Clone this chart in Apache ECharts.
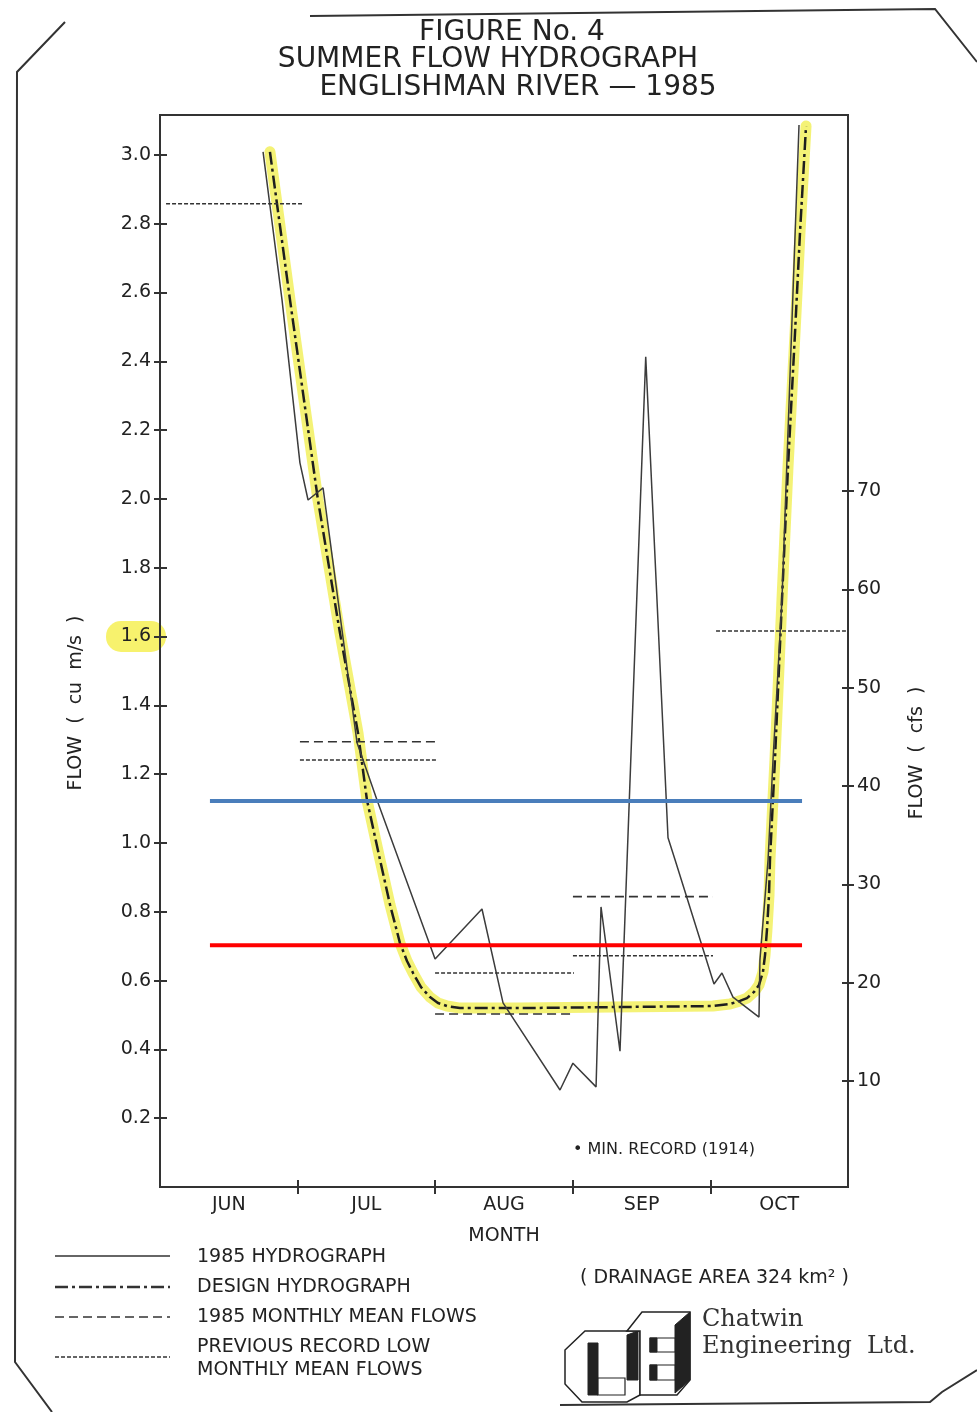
<!DOCTYPE html>
<html><head><meta charset="utf-8">
<script src="https://cdn.jsdelivr.net/npm/echarts@6/dist/echarts.min.js"></script>
<style>html,body{margin:0;padding:0;background:#fff}#c{width:977px;height:1412px}</style>
</head><body><div id="c"></div>
<script>
// ---------- data ----------
const months = ['JUN', 'JUL', 'AUG', 'SEP', 'OCT'];
const monthLabelPos = [0.5, 1.5, 2.5, 3.5, 4.5];
const monthTicks = [1, 2, 3, 4];
const leftTicks = [0.2, 0.4, 0.6, 0.8, 1.0, 1.2, 1.4, 1.6, 1.8, 2.0, 2.2, 2.4, 2.6, 2.8, 3.0];
const rightTicks = [10, 20, 30, 40, 50, 60, 70];

// 1985 hydrograph [month position, flow m3/s]
const hydrograph1985 = [
  [0.749, 3.009], [0.887, 2.578], [1.017, 2.105], [1.076, 1.997], [1.185, 2.032],
  [1.432, 1.291], [1.577, 1.125], [1.999, 0.663], [2.340, 0.808], [2.493, 0.535],
  [2.907, 0.282], [3.001, 0.360], [3.169, 0.291], [3.205, 0.814], [3.343, 0.395],
  [3.530, 2.413], [3.692, 1.015], [3.743, 0.951], [4.026, 0.590], [4.084, 0.622],
  [4.164, 0.552], [4.353, 0.494], [4.360, 0.660], [4.419, 0.951], [4.455, 1.241],
  [4.520, 1.706], [4.644, 3.087]
];

// design hydrograph
const designHydrograph = [
  [0.799, 3.009], [0.945, 2.578], [1.148, 1.997], [1.308, 1.610], [1.439, 1.320],
  [1.504, 1.125], [1.599, 0.951], [1.672, 0.820], [1.744, 0.709], [1.795, 0.657],
  [1.839, 0.622], [1.897, 0.581], [1.962, 0.552], [2.020, 0.535], [2.086, 0.526],
  [2.180, 0.520], [2.616, 0.520], [3.292, 0.523], [4.019, 0.526], [4.142, 0.532],
  [4.215, 0.541], [4.266, 0.549], [4.317, 0.567], [4.353, 0.587], [4.382, 0.625],
  [4.397, 0.674], [4.411, 0.747], [4.426, 0.849], [4.433, 0.951], [4.469, 1.241],
  [4.520, 1.706], [4.564, 2.093], [4.615, 2.483], [4.651, 2.773], [4.695, 3.084]
];

// 1985 monthly mean flows (JUL, AUG, SEP)
const mean1985Start = [1.017, 1.999, 3.001];
const mean1985End = [2.020, 3.009, 4.019];
const mean1985Values = [1.294, 0.503, 0.844];

// previous record low monthly mean flows (JUN..OCT)
const prevLowStart = [0.044, 1.017, 1.999, 3.001, 4.041];
const prevLowEnd = [1.032, 2.020, 3.009, 4.019, 4.985];
const prevLowValues = [2.858, 1.241, 0.622, 0.672, 1.616];

// added horizontal reference lines (blue, red)
const refLineValues = [1.122, 0.703];
const refLineStart = 0.363;
const refLineEnd = 4.666;

// ---------- helpers ----------
function segments(starts, ends, vals) {
  const out = [];
  for (let i = 0; i < vals.length; i++) {
    out.push([starts[i], vals[i]], [ends[i], vals[i]], [ends[i], null]);
  }
  return out;
}
const FONT = "'DejaVu Sans', 'Liberation Sans', sans-serif";
const INK = '#222';

const chart = echarts.init(document.getElementById('c'), null, { renderer: 'canvas' });

const Y_MAX = 3.116;
const R_MIN = -0.78, R_MAX = 108.24;
const GRID = { left: 160, right: 129, top: 115, bottom: 225 };

function txt(x, y, s, size, opts) {
  return Object.assign({
    type: 'text', x: x, y: y, silent: true,
    style: Object.assign({ text: s, fill: INK, font: size + 'px ' + FONT, textAlign: 'left', textVerticalAlign: 'middle' }, (opts && opts.style) || {})
  }, opts && opts.el || {});
}
function seg(x1, y1, x2, y2, dash, w) {
  return { type: 'line', silent: true, shape: { x1, y1, x2, y2 }, style: { stroke: '#333', lineWidth: w || 1.5, lineDash: dash || null } };
}
function poly(points, fill, w) {
  return { type: 'polygon', silent: true, shape: { points }, style: { fill: fill || '#fff', stroke: '#222', lineWidth: w || 1.5 } };
}
const tickStyle = { color: '#333', width: 2 };

const option = {
  backgroundColor: '#fff',
  animation: false,
  grid: [
    Object.assign({ show: true, borderColor: '#333', borderWidth: 2, backgroundColor: 'transparent' }, GRID),
    Object.assign({ show: false }, GRID)
  ],
  xAxis: [
    {
      type: 'value', min: 0, max: 5, interval: 0.5, gridIndex: 0,
      axisLine: { show: true, lineStyle: { color: '#333', width: 2 } },
      axisTick: { show: true, inside: false, length: 7, lineStyle: tickStyle, customValues: monthTicks },
      axisLabel: {
        show: true, margin: 9, color: INK, fontFamily: FONT, fontSize: 19,
        customValues: monthLabelPos,
        formatter: v => { const i = Math.round(v - 0.5); return (Math.abs(v - 0.5 - i) < 1e-6 && months[i]) ? months[i] : ''; }
      },
      splitLine: { show: false },
      name: 'MONTH', nameLocation: 'middle', nameGap: 40,
      nameTextStyle: { color: INK, fontFamily: FONT, fontSize: 19 }
    },
    {
      type: 'value', min: 0, max: 5, position: 'bottom', gridIndex: 1,
      axisLine: { show: false },
      axisTick: { show: true, inside: true, length: 7, lineStyle: tickStyle, customValues: monthTicks },
      axisLabel: { show: false }, splitLine: { show: false }
    }
  ],
  yAxis: [
    {
      type: 'value', min: 0, max: Y_MAX, interval: 0.2, position: 'left', gridIndex: 0,
      axisLine: { show: true, lineStyle: { color: '#333', width: 2 } },
      axisTick: { show: true, length: 6, lineStyle: tickStyle, customValues: leftTicks },
      axisLabel: {
        show: true, margin: 9, color: INK, fontFamily: FONT, fontSize: 19,
        customValues: leftTicks,
        formatter: v => (v < 0.1 || v > 3.05) ? '' : v.toFixed(1)
      },
      splitLine: { show: false }
    },
    {
      type: 'value', min: R_MIN, max: R_MAX, interval: 10, position: 'right', gridIndex: 0,
      axisLine: { show: true, lineStyle: { color: '#333', width: 2 } },
      axisTick: { show: true, length: 6, lineStyle: tickStyle, customValues: rightTicks },
      axisLabel: { show: true, margin: 9, color: INK, fontFamily: FONT, fontSize: 19, customValues: rightTicks,
        formatter: v => (v >= 9 && v <= 71) ? String(Math.round(v)) : '' },
      splitLine: { show: false }
    },
    {
      type: 'value', min: 0, max: Y_MAX, position: 'left', gridIndex: 1,
      axisLine: { show: false },
      axisTick: { show: true, inside: true, length: 7, lineStyle: tickStyle, customValues: leftTicks },
      axisLabel: { show: false }, splitLine: { show: false }
    },
    {
      type: 'value', min: R_MIN, max: R_MAX, position: 'right', gridIndex: 1,
      axisLine: { show: false },
      axisTick: { show: true, inside: true, length: 6, lineStyle: tickStyle, customValues: rightTicks },
      axisLabel: { show: false }, splitLine: { show: false }
    }
  ],
  series: [
    {
      name: 'highlight', type: 'line', data: designHydrograph, symbol: 'none', silent: true, z: 1,
      lineStyle: { color: 'rgba(240,236,60,0.7)', width: 11, cap: 'round', join: 'round' }
    },
    {
      name: 'DESIGN HYDROGRAPH', type: 'line', data: designHydrograph, symbol: 'none', silent: true, z: 3,
      lineStyle: { color: '#1e1e1e', width: 2.5, type: [13, 4, 3, 4], join: 'round' }
    },
    {
      name: '1985 HYDROGRAPH', type: 'line', data: hydrograph1985, symbol: 'none', silent: true, z: 4,
      lineStyle: { color: '#3c3c3c', width: 1.5 }
    },
    {
      name: '1985 MONTHLY MEAN FLOWS', type: 'line', data: segments(mean1985Start, mean1985End, mean1985Values),
      symbol: 'none', silent: true, connectNulls: false, z: 4,
      lineStyle: { color: '#333', width: 1.6, type: [9, 5] }
    },
    {
      name: 'PREVIOUS RECORD LOW MONTHLY MEAN FLOWS', type: 'line', data: segments(prevLowStart, prevLowEnd, prevLowValues),
      symbol: 'none', silent: true, connectNulls: false, z: 4,
      lineStyle: { color: '#333', width: 1.5, type: [4, 2] }
    },
    {
      name: 'blue line', type: 'line', data: [[refLineStart, refLineValues[0]], [refLineEnd, refLineValues[0]]],
      symbol: 'none', silent: true, z: 6, lineStyle: { color: '#4a7ebb', width: 4 }
    },
    {
      name: 'red line', type: 'line', data: [[refLineStart, refLineValues[1]], [refLineEnd, refLineValues[1]]],
      symbol: 'none', silent: true, z: 6, lineStyle: { color: '#ff0000', width: 4 }
    }
  ],
  graphic: [
    // yellow highlight behind the 1.6 label
    { type: 'rect', silent: true, z: -10, shape: { x: 106, y: 621, width: 60, height: 31, r: 15 }, style: { fill: 'rgba(244,238,60,0.75)' } },
    // page frame
    { type: 'polyline', silent: true, shape: { points: [[310, 16], [935, 9], [977, 62]] }, style: { stroke: '#333', lineWidth: 2, fill: null } },
    { type: 'polyline', silent: true, shape: { points: [[65, 22], [17, 72], [15, 1362], [52, 1412]] }, style: { stroke: '#333', lineWidth: 2, fill: null } },
    { type: 'polyline', silent: true, shape: { points: [[560, 1405], [930, 1402], [942, 1392], [977, 1370]] }, style: { stroke: '#333', lineWidth: 2, fill: null } },
    // titles
    txt(512, 33, 'FIGURE No. 4', 28, { style: { textAlign: 'center' } }),
    txt(488, 60, 'SUMMER FLOW HYDROGRAPH', 28, { style: { textAlign: 'center' } }),
    txt(518, 88, 'ENGLISHMAN RIVER \u2014 1985', 28, { style: { textAlign: 'center' } }),
    // axis names
    txt(76, 703, 'FLOW  (  cu  m/s  )', 19, { style: { textAlign: 'center' }, el: { rotation: Math.PI / 2 } }),
    txt(917, 753, 'FLOW  (  cfs  )', 19, { style: { textAlign: 'center' }, el: { rotation: Math.PI / 2 } }),
    // note
    txt(573, 1150, '\u2022 MIN. RECORD (1914)', 16),
    // legend
    seg(55, 1256, 170, 1256, null, 1.5),
    txt(197, 1257, '1985 HYDROGRAPH', 19),
    seg(55, 1287, 170, 1287, [13, 4, 3, 4], 2.5),
    txt(197, 1287, 'DESIGN HYDROGRAPH', 19),
    seg(55, 1317, 170, 1317, [9, 5], 1.6),
    txt(197, 1317, '1985 MONTHLY MEAN FLOWS', 19),
    seg(55, 1357, 170, 1357, [4, 2], 1.5),
    txt(197, 1347, 'PREVIOUS RECORD LOW', 19),
    txt(197, 1370, 'MONTHLY MEAN FLOWS', 19),
    // drainage area
    txt(580, 1278, '( DRAINAGE AREA 324 km\u00B2 )', 19),
    // logo
    poly([[565, 1350], [585, 1331], [640, 1331], [640, 1395], [627, 1402], [582, 1402], [565, 1384]], '#fff'),
    poly([[588, 1343], [598, 1343], [598, 1395], [588, 1395]], '#222', 1),
    poly([[598, 1378], [625, 1378], [625, 1395], [598, 1395]], '#fff', 1.2),
    poly([[627, 1335], [638, 1331], [638, 1380], [627, 1380]], '#222', 1),
    poly([[627, 1331], [642, 1312], [690, 1312], [690, 1380], [677, 1395], [640, 1395], [640, 1331]], '#fff'),
    poly([[675, 1325], [690, 1312], [690, 1380], [675, 1393]], '#222', 1),
    poly([[650, 1338], [675, 1338], [675, 1352], [650, 1352]], '#fff', 1.2),
    poly([[650, 1338], [657, 1338], [657, 1352], [650, 1352]], '#222', 1),
    poly([[650, 1365], [675, 1365], [675, 1380], [650, 1380]], '#fff', 1.2),
    poly([[650, 1365], [657, 1365], [657, 1380], [650, 1380]], '#222', 1),
    { type: 'text', silent: true, x: 702, y: 1320, style: { text: 'Chatwin', fill: '#333', font: "24px 'DejaVu Serif', 'Liberation Serif', serif", textVerticalAlign: 'middle' } },
    { type: 'text', silent: true, x: 702, y: 1347, style: { text: 'Engineering  Ltd.', fill: '#333', font: "24px 'DejaVu Serif', 'Liberation Serif', serif", textVerticalAlign: 'middle' } }
  ]
};
chart.setOption(option);
</script></body></html>
